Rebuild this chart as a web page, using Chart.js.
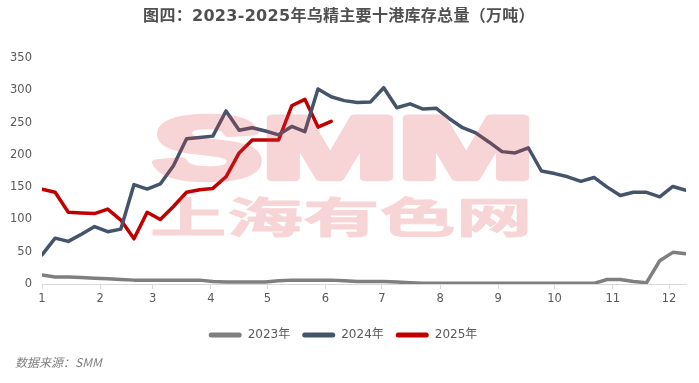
<!DOCTYPE html>
<html>
<head>
<meta charset="utf-8">
<script src="https://cdn.jsdelivr.net/npm/chart.js@4.4.1/dist/chart.umd.min.js"></script>
<style>
  html, body { margin: 0; padding: 0; background: #ffffff; }
  #wrap { position: relative; width: 699px; height: 383px; overflow: hidden; }
  #c { position: absolute; left: 0; top: 0; }
  #title { position: absolute; left: 0; width: 678px; top: 6px; text-align: center;
    font: bold 16px "DejaVu Sans", "Noto Sans CJK SC", sans-serif; line-height: 20px; color: #505050; white-space: nowrap; letter-spacing: 0.3px; }
  #source { position: absolute; left: 15px; top: 354px;
    font: italic 12px "Noto Sans CJK SC", "DejaVu Sans", sans-serif; line-height: 16px; color: #7f7f7f; white-space: nowrap; }
</style>
</head>
<body>
<div id="wrap">
  <canvas id="c" width="699" height="383"></canvas>
  <div id="title">图四：2023-2025年乌精主要十港库存总量（万吨）</div>
  <div id="source">数据来源：SMM</div>
</div>
<script>
// week positions (days from Jan 1)
const weekDays = [0,7,14,21,28,35,42,49,56,63,70,77,84,91,98,105,112,119,126,133,
  140,147,154,161,168,175,182,189,196,203,210,217,224,231,238,245,252,259,266,273,
  280,287,294,301,308,315,322,329,336,343];
// month tick positions (day of year of month start) and their labels
const monthStartDays = [0,31,59,90,120,151,181,212,243,273,304,334];
const monthLabels = ['1','2','3','4','5','6','7','8','9','10','11','12'];
const yTicks = [0,50,100,150,200,250,300,350];

const seriesNames = ['2023年','2024年','2025年'];
const s2023 = [14,11,11,10,9,8,7,6,6,6,6,6,6,4,3,3,3,3,5,6,6,6,6,5,4,4,4,3,2,1,
  1,1,1,1,1,1,1,1,1,1,1,1,1,7,7,4,2,36,49,47];
const s2024 = [45,71,66,77,89,81,85,154,147,155,183,225,227,229,268,238,242,237,231,244,
  236,302,290,284,281,282,304,273,279,271,272,256,242,234,220,205,203,211,175,171,
  166,159,165,150,137,142,142,135,151,145];
const s2025 = [147,142,111,110,109,116,99,70,111,100,120,142,146,148,166,203,223,223,223,276,
  286,243,252];

const colors = ['#7f7f7f', '#44546a', '#c00000'];

const watermark = {
  id: 'watermark',
  afterDatasetsDraw(chart) {
    const off = document.createElement('canvas');
    off.width = chart.width; off.height = chart.height;
    const o = off.getContext('2d');
    const fit = (text, font, x0, y0, x1, y1, stroke) => {
      o.save();
      o.font = font;
      o.textBaseline = 'alphabetic';
      o.textAlign = 'left';
      const m = o.measureText(text);
      const w = m.actualBoundingBoxLeft + m.actualBoundingBoxRight;
      const h = m.actualBoundingBoxAscent + m.actualBoundingBoxDescent;
      const bx0 = x0 + stroke / 2, by0 = y0 + stroke / 2;
      const sx = (x1 - x0 - stroke) / w, sy = (y1 - y0 - stroke) / h;
      o.translate(bx0, by0);
      o.scale(sx, sy);
      o.fillStyle = 'rgb(220, 60, 70)';
      o.strokeStyle = 'rgb(220, 60, 70)';
      o.lineJoin = 'round';
      o.fillText(text, m.actualBoundingBoxLeft, m.actualBoundingBoxAscent);
      if (stroke > 0) {
        o.lineWidth = stroke / Math.sqrt(sx * sy);
        o.strokeText(text, m.actualBoundingBoxLeft, m.actualBoundingBoxAscent);
      }
      o.restore();
    };
    fit('SMM', 'bold 100px "Liberation Sans", "DejaVu Sans", sans-serif', 152, 112, 528, 183, 9);
    fit('上海有色网', 'bold 60px "Noto Sans CJK SC", sans-serif', 152, 195, 528, 238, 1.2);
    const ctx = chart.ctx;
    ctx.save();
    ctx.globalAlpha = 0.22;
    ctx.drawImage(off, 0, 0);
    ctx.restore();
  }
};

const mk = (label, data, color) => ({
  label, data, borderColor: color, backgroundColor: color,
  borderWidth: 3.5, pointRadius: 0, pointHoverRadius: 0, tension: 0,
  borderJoinStyle: 'round', borderCapStyle: 'round', fill: false
});

new Chart(document.getElementById('c'), {
  type: 'line',
  data: {
    labels: weekDays,
    datasets: [
      mk(seriesNames[0], s2023, colors[0]),
      mk(seriesNames[1], s2024, colors[1]),
      mk(seriesNames[2], s2025, colors[2])
    ]
  },
  options: {
    responsive: false,
    animation: false,
    devicePixelRatio: 1,
    layout: { padding: { top: 58, left: 0, right: 13, bottom: 32 } },
    plugins: {
      tooltip: { enabled: false },
      title: { display: false },
      legend: {
        position: 'bottom',
        labels: {
          boxWidth: 33, boxHeight: 5, padding: 12, color: '#595959',
          useBorderRadius: true, borderRadius: 2.5,
          font: { family: '"DejaVu Sans", "Noto Sans CJK SC", sans-serif', size: 12 },
          generateLabels(chart) {
            const items = Chart.defaults.plugins.legend.labels.generateLabels(chart);
            items.forEach(it => { it.lineWidth = 0; it.fillStyle = colors[it.datasetIndex]; it.strokeStyle = colors[it.datasetIndex]; it.borderRadius = 2.5; });
            return items;
          }
        }
      }
    },
    scales: {
      x: {
        type: 'linear',
        min: 0, max: 343,
        afterBuildTicks(scale) { scale.ticks = monthStartDays.map(v => ({ value: v })); },
        afterFit(scale) { scale.height = 33; },
        ticks: {
          autoSkip: false, maxRotation: 0, padding: 3, color: '#595959',
          font: { family: '"DejaVu Sans", sans-serif', size: 11.5 },
          callback(value) { const i = monthStartDays.indexOf(value); return i >= 0 ? monthLabels[i] : ''; }
        },
        grid: { display: true, drawOnChartArea: false, drawTicks: true, tickLength: 5, color: '#d9d9d9', lineWidth: 1 },
        border: { display: true, color: '#d9d9d9', width: 1 }
      },
      y: {
        min: 0, max: 350,
        afterBuildTicks(scale) { scale.ticks = yTicks.map(v => ({ value: v })); },
        afterFit(scale) { scale.width = 42; },
        ticks: {
          padding: 10, color: '#595959',
          font: { family: '"DejaVu Sans", sans-serif', size: 11.5 }
        },
        grid: { display: false, drawTicks: false },
        border: { display: false }
      }
    }
  },
  plugins: [watermark]
});
</script>
</body>
</html>
